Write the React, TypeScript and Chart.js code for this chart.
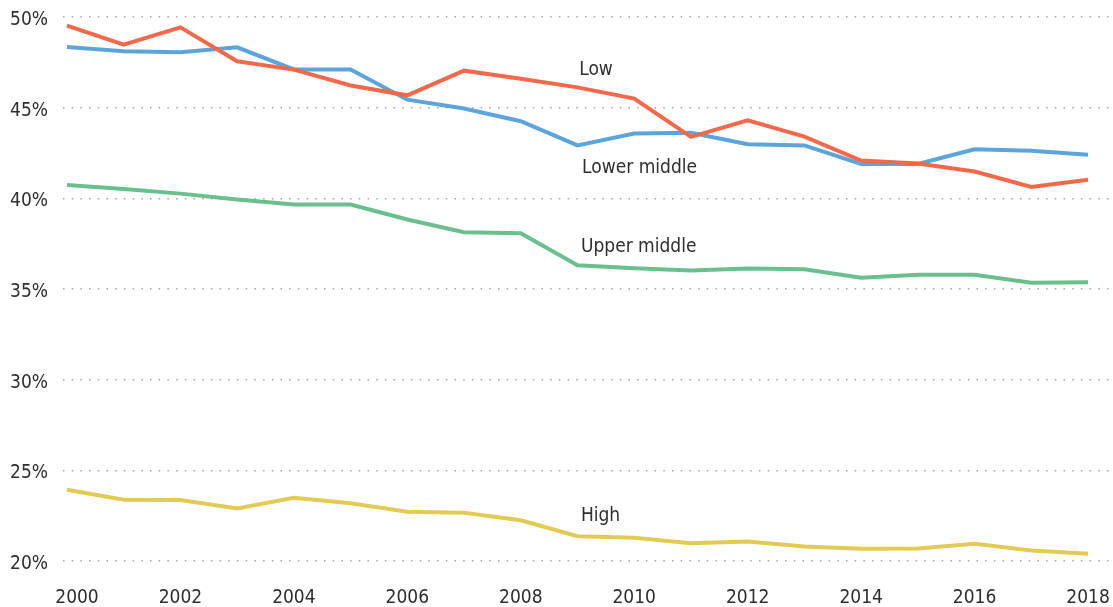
import { useEffect, useRef } from 'react';
import { Chart, registerables } from 'chart.js';

Chart.register(...registerables);

const years = [2000, 2001, 2002, 2003, 2004, 2005, 2006, 2007, 2008, 2009, 2010, 2011, 2012, 2013, 2014, 2015, 2016, 2017, 2018];

const lowValues = [49.52, 48.48, 49.43, 47.56, 47.1, 46.22, 45.68, 47.04, 46.6, 46.12, 45.5, 43.39, 44.3, 43.4, 42.08, 41.92, 41.48, 40.63, 41.03];
const lowerMiddleValues = [48.35, 48.11, 48.05, 48.33, 47.11, 47.11, 45.44, 44.95, 44.25, 42.92, 43.57, 43.62, 42.98, 42.92, 41.9, 41.9, 42.7, 42.63, 42.41];
const upperMiddleValues = [40.74, 40.52, 40.26, 39.93, 39.66, 39.66, 38.83, 38.13, 38.07, 36.31, 36.14, 36.02, 36.13, 36.09, 35.62, 35.78, 35.78, 35.34, 35.37];
const highValues = [23.93, 23.38, 23.36, 22.9, 23.49, 23.19, 22.72, 22.66, 22.25, 21.37, 21.28, 20.98, 21.08, 20.8, 20.68, 20.69, 20.95, 20.58, 20.4];

const xTickYears = [2000, 2002, 2004, 2006, 2008, 2010, 2012, 2014, 2016, 2018];
const yTickValues = [20, 25, 30, 35, 40, 45, 50];

const seriesNames = ['Low', 'Lower middle', 'Upper middle', 'High'];
const seriesColors = ['#F1694A', '#5DA4DA', '#6BBF8E', '#E1CB55'];

// in-chart series labels, anchored in data units (year, percent)
const labelYears = [2009.03, 2009.08, 2009.06, 2009.06];
const labelValues = [46.82, 41.42, 37.03, 22.2];

const FONT = '"DejaVu Sans Condensed", "DejaVu Sans", sans-serif';
const TEXT_COLOR = '#2e2e2e';

const toPoints = (vals: number[]) => years.map((y, i) => ({ x: y, y: vals[i] }));

const overlayPlugin = {
  id: 'overlayText',
  afterDraw(chart: any) {
    const { ctx, chartArea } = chart;
    const xs = chart.scales.x;
    const ys = chart.scales.y;
    ctx.save();
    ctx.fillStyle = TEXT_COLOR;
    ctx.font = `19px ${FONT}`;
    ctx.textAlign = 'left';
    ctx.textBaseline = 'alphabetic';
    seriesNames.forEach((name, i) => {
      ctx.fillText(name, xs.getPixelForValue(labelYears[i]), ys.getPixelForValue(labelValues[i]));
    });
    ctx.textAlign = 'center';
    xTickYears.forEach((yr) => {
      const px = Math.max(xs.getPixelForValue(yr), chartArea.left + 14);
      ctx.fillText(String(yr), px, chartArea.bottom + 42);
    });
    ctx.restore();
  },
};

export default function App() {
  const ref = useRef<HTMLCanvasElement>(null);
  useEffect(() => {
    document.body.style.margin = '0';
    const datasets = [lowValues, lowerMiddleValues, upperMiddleValues, highValues].map((vals, i) => ({
      label: seriesNames[i],
      data: toPoints(vals),
      borderColor: seriesColors[i],
      backgroundColor: seriesColors[i],
      borderWidth: 4,
      pointRadius: 0,
      tension: 0,
      fill: false,
      clip: false as any,
    }));
    const ordered = [datasets[2], datasets[3], datasets[0], datasets[1]];
    const chart = new Chart(ref.current!, {
      type: 'line',
      data: { datasets: ordered },
      options: {
        animation: false,
        responsive: true,
        maintainAspectRatio: false,
        layout: { padding: { left: 0, right: 2, top: 17, bottom: 46 } },
        plugins: { legend: { display: false }, tooltip: { enabled: false } },
        scales: {
          x: {
            type: 'linear',
            display: false,
            min: 1999.93,
            max: 2018.405,
          },
          y: {
            type: 'linear',
            min: 20,
            max: 50,
            afterFit(scale: any) {
              scale.width = 63;
              scale.paddingTop = 0;
              scale.paddingBottom = 0;
            },
            afterBuildTicks(scale: any) {
              scale.ticks = yTickValues.map((v) => ({ value: v }));
            },
            border: { display: false, dash: [1.5, 7.2] },
            grid: {
              color: '#a5a5a5',
              lineWidth: 1.5,
              drawTicks: false,
            },
            ticks: {
              padding: 15,
              labelOffset: 3,
              color: TEXT_COLOR,
              font: { family: FONT, size: 19 },
              callback: (v: any) => `${v}%`,
            },
          },
        },
      },
      plugins: [overlayPlugin],
    });
    return () => chart.destroy();
  }, []);
  return (
    <div style={{ width: 1113, height: 607, position: 'relative' }}>
      <canvas ref={ref} />
    </div>
  );
}
